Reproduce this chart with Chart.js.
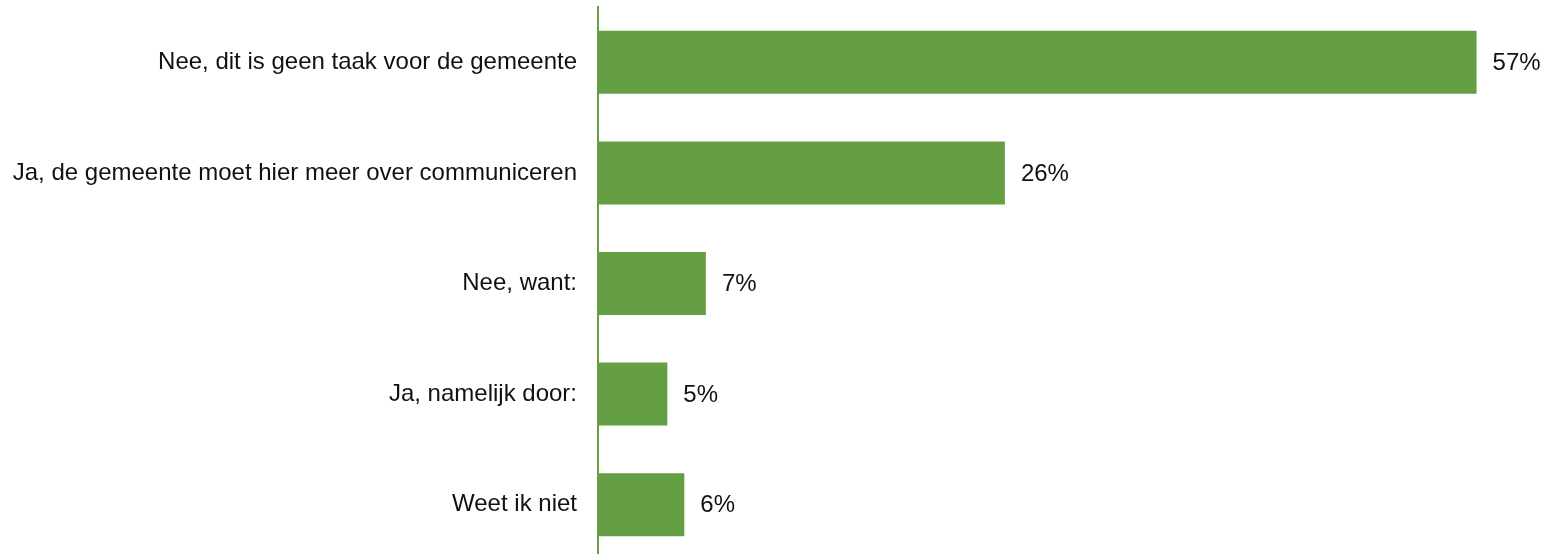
<!DOCTYPE html>
<html>
<head>
<meta charset="utf-8">
<script src="https://cdn.jsdelivr.net/npm/chart.js@4.4.1/dist/chart.umd.min.js"></script>
<style>
  html, body { margin: 0; padding: 0; background: #fff; overflow: hidden; }
  #wrap { width: 1549px; height: 560px; }
</style>
</head>
<body>
<div id="wrap"><canvas id="answerChart" width="1549" height="560"></canvas></div>
<script>
// antwoorden en percentages
const answers = [
    'Nee, dit is geen taak voor de gemeente',
    'Ja, de gemeente moet hier meer over communiceren',
    'Nee, want:',
    'Ja, namelijk door:',
    'Weet ik niet'
];
const shares = [57.0, 26.4, 7.0, 4.5, 5.6];

const green = '#64a043';
const fontFamily = '"Liberation Sans", Arial, sans-serif';

// percentage rechts naast iedere balk
const valueLabels = {
    id: 'valueLabels',
    afterDatasetsDraw(chart) {
        const ctx = chart.ctx;
        const meta = chart.getDatasetMeta(0);
        ctx.save();
        ctx.font = '24px ' + fontFamily;
        ctx.fillStyle = '#111';
        ctx.textAlign = 'left';
        ctx.textBaseline = 'middle';
        meta.data.forEach((bar, i) => {
            ctx.fillText(Math.round(shares[i]) + '%', bar.x + 16, bar.y + 1);
        });
        ctx.restore();
    }
};

const ctx = document.getElementById('answerChart').getContext('2d');
new Chart(ctx, {
    type: 'bar',
    data: {
        labels: answers,
        datasets: [{
            data: shares,
            backgroundColor: green,
            borderWidth: 0,
            categoryPercentage: 1,
            barPercentage: 0.57
        }]
    },
    options: {
        indexAxis: 'y',
        responsive: false,
        animation: false,
        layout: { padding: { top: 7, right: 0, bottom: 0, left: 0 } },
        plugins: {
            legend: { display: false },
            tooltip: { enabled: false }
        },
        scales: {
            x: {
                display: false,
                min: 0,
                max: 61.7
            },
            y: {
                grid: { display: false, drawTicks: false },
                border: { display: true, color: green, width: 2 },
                ticks: {
                    color: '#111',
                    padding: 21,
                    font: { family: fontFamily, size: 24 }
                },
                afterFit(scale) {
                    scale.width = 598;
                    scale.paddingTop = 0;
                    scale.paddingBottom = 0;
                }
            }
        }
    },
    plugins: [valueLabels]
});
</script>
</body>
</html>
